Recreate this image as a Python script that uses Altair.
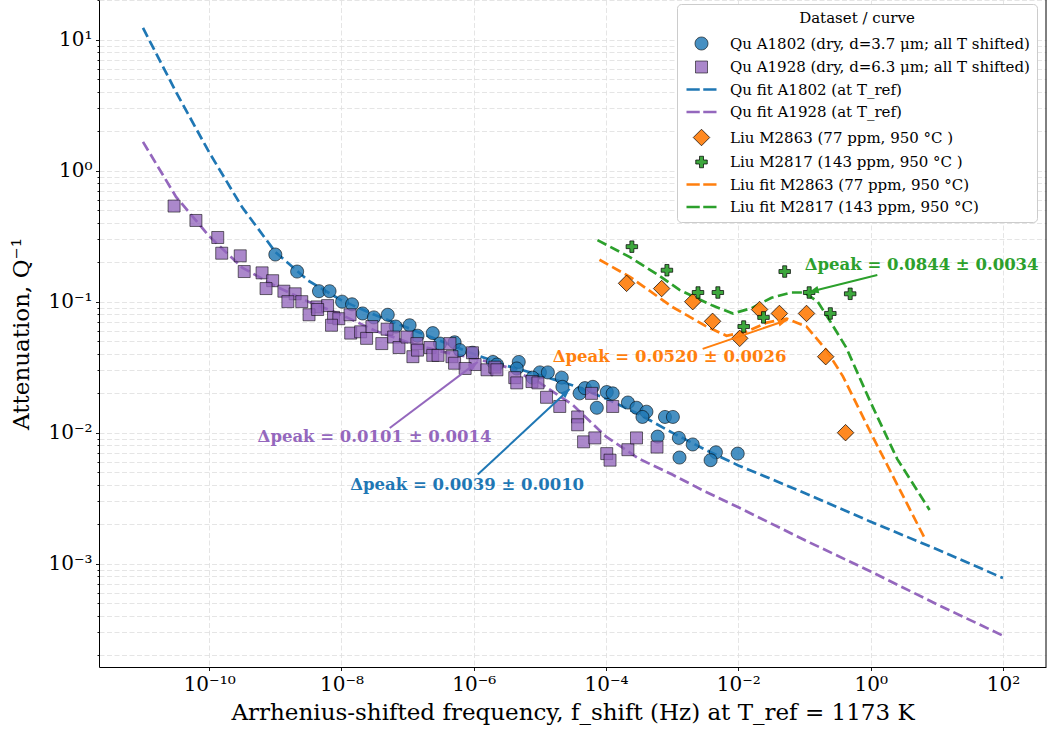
import math
import altair as alt
import pandas as pd

# ---------------- data (log10 values) ----------------
# Qu A1802 : log10 f_shift [Hz], log10 Q^-1
a1802_logf = [-9.00, -8.67, -8.34, -8.18, -7.99, -7.84, -7.68, -7.51, -7.30, -7.18,
              -6.97, -6.85, -6.62, -6.51, -6.29, -6.21, -6.02, -5.71, -5.65, -5.32,
              -5.35, -5.00, -4.88, -5.11, -4.67, -4.66, -4.40, -4.32, -4.20, -3.99,
              -3.90, -4.14, -3.67, -3.54, -3.39, -3.45, -3.11, -2.99, -3.22, -2.90,
              -2.69, -2.34, -2.42, -2.89, -2.01]
a1802_logq = [-0.64, -0.77, -0.92, -0.92, -1.00, -1.02, -1.09, -1.12, -1.10, -1.19,
              -1.18, -1.26, -1.24, -1.32, -1.31, -1.37, -1.39, -1.46, -1.48, -1.46,
              -1.51, -1.54, -1.54, -1.58, -1.58, -1.65, -1.70, -1.66, -1.65, -1.69,
              -1.70, -1.81, -1.77, -1.81, -1.84, -1.88, -1.88, -1.88, -2.03, -2.04,
              -2.09, -2.15, -2.21, -2.19, -2.16]

# Qu A1928
a1928_logf = [-10.53, -10.20, -9.87, -9.81, -9.53, -9.47, -9.20, -9.04, -9.14, -8.87,
              -8.70, -8.81, -8.60, -8.37, -8.49, -8.21, -8.36, -8.12, -8.04, -7.87,
              -8.15, -7.86, -7.71, -7.62, -7.54, -7.39, -7.31, -7.21, -7.13, -7.01,
              -6.86, -6.92, -6.85, -6.66, -6.62, -6.54, -6.36, -6.33, -6.29, -6.02,
              -5.98, -6.13, -5.80, -5.68, -5.65, -5.38, -5.35, -5.12, -5.03, -4.90,
              -4.70, -4.43, -4.43, -4.34, -4.17, -3.99, -3.94, -3.67, -3.54, -3.23,
              -4.22, -3.90]
a1928_logq = [-0.27, -0.38, -0.51, -0.63, -0.65, -0.77, -0.78, -0.84, -0.90, -0.92,
              -0.94, -1.00, -1.00, -1.04, -1.10, -1.03, -1.06, -1.12, -1.13, -1.10,
              -1.18, -1.24, -1.23, -1.28, -1.19, -1.32, -1.21, -1.27, -1.35, -1.27,
              -1.32, -1.42, -1.37, -1.35, -1.41, -1.41, -1.32, -1.42, -1.47, -1.39,
              -1.48, -1.51, -1.52, -1.50, -1.52, -1.58, -1.62, -1.61, -1.62, -1.73,
              -1.80, -1.88, -1.94, -2.07, -2.04, -2.16, -2.21, -2.13, -2.04, -2.11,
              -1.70, -1.80]

# Liu M2863 (diamonds)
m2863_logf = [-3.69, -3.16, -2.69, -2.39, -1.98, -1.68, -1.38, -0.97, -0.68, -0.38]
m2863_logq = [-0.86, -0.90, -1.00, -1.15, -1.28, -1.06, -1.09, -1.09, -1.42, -2.00]

# Liu M2817 (crosses)
m2817_logf = [-3.61, -3.08, -2.61, -2.31, -1.92, -1.62, -1.30, -0.93, -0.61, -0.31]
m2817_logq = [-0.58, -0.76, -0.93, -0.93, -1.19, -1.12, -0.77, -0.93, -1.09, -0.94]

# fitted curves
fit_a1802_logf = [-11.0, -10.5, -10.0, -9.5, -9.0, -8.5, -8.0, -7.5, -7.0, -6.5, -6.0, -5.5,
                  -5.0, -4.5, -4.0, -3.5, -3.0, -2.5, -2.0, -1.0, 0.0, 1.0, 2.0]
fit_a1802_logq = [1.09, 0.60, 0.14, -0.28, -0.62, -0.84, -0.99, -1.10, -1.20, -1.30, -1.40, -1.49,
                  -1.56, -1.64, -1.74, -1.86, -2.00, -2.13, -2.25, -2.46, -2.68, -2.89, -3.11]
fit_a1928_logf = [-11.0, -10.5, -10.0, -9.5, -9.0, -8.5, -8.0, -7.5, -7.0, -6.5, -6.0, -5.5,
                  -5.0, -4.5, -4.0, -3.5, -3.0, -2.5, -2.0, -1.0, 0.0, 1.0, 2.0]
fit_a1928_logq = [0.22, -0.20, -0.50, -0.74, -0.88, -1.00, -1.10, -1.22, -1.31, -1.38, -1.43, -1.50,
                  -1.62, -1.79, -2.03, -2.20, -2.32, -2.45, -2.57, -2.82, -3.06, -3.31, -3.55]
fit_m2863_logf = [-4.10, -3.64, -3.00, -2.48, -2.18, -1.88, -1.57, -1.27, -0.97, -0.67, -0.42, 0.03, 0.81]
fit_m2863_logq = [-0.68, -0.81, -1.04, -1.19, -1.26, -1.23, -1.16, -1.13, -1.19, -1.37, -1.57, -2.03, -2.80]
fit_m2817_logf = [-4.13, -3.64, -3.20, -2.89, -2.39, -2.08, -1.80, -1.50, -1.20, -1.00, -0.80, -0.60,
                  -0.37, 0.00, 0.40, 0.89]
fit_m2817_logq = [-0.53, -0.66, -0.80, -0.91, -1.03, -1.09, -1.05, -0.97, -0.93, -0.93, -1.00, -1.16,
                  -1.35, -1.77, -2.20, -2.59]

# annotations: text, text anchor, arrow tail, arrow head (log10 data coords)
ann_text = ["Δpeak = 0.0101 ± 0.0014", "Δpeak = 0.0039 ± 0.0010",
            "Δpeak = 0.0520 ± 0.0026", "Δpeak = 0.0844 ± 0.0034"]
ann_color = ["#9467bd", "#1f77b4", "#ff7f0e", "#2ca02c"]
ann_text_logf = [-7.50, -6.10, -3.04, 0.77]
ann_text_logq = [-2.033, -2.40, -1.42, -0.72]
ann_tail_logf = [-7.27, -5.94, -2.54, 0.10]
ann_tail_logq = [-1.964, -2.32, -1.36, -0.796]
ann_head_logf = [-5.94, -4.55, -1.26, -0.93]
ann_head_logq = [-1.460, -1.666, -1.14, -0.926]

# labels
L_A1802 = "Qu A1802 (dry, d=3.7 μm; all T shifted)"
L_A1928 = "Qu A1928 (dry, d=6.3 μm; all T shifted)"
L_FA1802 = "Qu fit A1802 (at T_ref)"
L_FA1928 = "Qu fit A1928 (at T_ref)"
L_M2863 = "Liu M2863 (77 ppm, 950 °C )"
L_M2817 = "Liu M2817 (143 ppm, 950 °C )"
L_FM2863 = "Liu fit M2863 (77 ppm, 950 °C)"
L_FM2817 = "Liu fit M2817 (143 ppm, 950 °C)"
legend_order = [L_A1802, L_A1928, L_FA1802, L_FA1928, L_M2863, L_M2817, L_FM2863, L_FM2817]

BLUE, PURPLE, ORANGE, GREEN = "#1f77b4", "#9467bd", "#ff7f0e", "#2ca02c"

# ---------------- layout ----------------
W, H = 947, 667
X_LO, X_HI = -11.665, 2.65
Y_LO, Y_HI = -3.789, 1.303
PPX = W / (X_HI - X_LO)
PPY = H / (Y_HI - Y_LO)
FONT = "DejaVu Serif"

# ---------------- tables ----------------
def pts(logf, logq, name):
    return pd.DataFrame({"f": [10 ** v for v in logf], "q": [10 ** v for v in logq], "series": name})

points = pd.concat([
    pts(a1802_logf, a1802_logq, L_A1802),
    pts(a1928_logf, a1928_logq, L_A1928),
    pts(m2863_logf, m2863_logq, L_M2863),
    pts(m2817_logf, m2817_logq, L_M2817),
], ignore_index=True)

fits = pd.concat([
    pts(fit_a1802_logf, fit_a1802_logq, L_FA1802),
    pts(fit_a1928_logf, fit_a1928_logq, L_FA1928),
    pts(fit_m2863_logf, fit_m2863_logq, L_FM2863),
    pts(fit_m2817_logf, fit_m2817_logq, L_FM2817),
], ignore_index=True)

ann_labels = pd.DataFrame({
    "f": [10 ** v for v in ann_text_logf], "q": [10 ** v for v in ann_text_logq],
    "label": ann_text, "color": ann_color})
arrows = pd.DataFrame({
    "f": [10 ** v for v in ann_tail_logf], "q": [10 ** v for v in ann_tail_logq],
    "f2": [10 ** v for v in ann_head_logf], "q2": [10 ** v for v in ann_head_logq],
    "color": ann_color})
heads = pd.DataFrame({
    "f": [10 ** v for v in ann_head_logf], "q": [10 ** v for v in ann_head_logq],
    "color": ann_color,
    "angle": [math.degrees(math.atan2((h - t) * PPX, (hq - tq) * PPY)) % 360
              for t, h, tq, hq in zip(ann_tail_logf, ann_head_logf, ann_tail_logq, ann_head_logq)]})

# ---------------- axes ----------------
x_major = [10.0 ** k for k in range(-10, 3, 2)]
y_major = [10.0 ** k for k in range(-3, 2)]
y_minor = [m * 10.0 ** k for k in range(-4, 2) for m in range(2, 10)
           if 10 ** Y_LO <= m * 10.0 ** k <= 10 ** Y_HI]
y_values = sorted(y_major + y_minor)

EXP = "round(log(datum.value)/LN10)"
IS_DEC = f"abs(log(datum.value)/LN10 - {EXP}) < 0.001"
sup = f"('' + {EXP})"
for a, b in [("-", "⁻"), ("0", "⁰"), ("1", "¹"), ("2", "²"), ("3", "³"), ("4", "⁴"),
             ("5", "⁵"), ("6", "⁶"), ("7", "⁷"), ("8", "⁸"), ("9", "⁹")]:
    sup = f"replace({sup}, '{a}', '{b}')"
LABEL_EXPR = f"{IS_DEC} ? '10' + {sup} : ''"

common_axis = dict(
    labelExpr=LABEL_EXPR, grid=True, gridColor="#dedede", gridDash=[5, 2.5], gridWidth=0.8,
    tickColor="black", tickWidth=0.9, domain=True, domainColor="black", domainWidth=1,
    labelFont=FONT, labelFontSize=20, labelColor="black", labelPadding=3.5,
    labelOverlap=False, labelFlush=False, titleFont=FONT, titleFontWeight="normal",
    titleColor="black", titleFontSize=23,
)

X = alt.X("f:Q", scale=alt.Scale(type="log", domain=[10 ** X_LO, 10 ** X_HI], nice=False),
          axis=alt.Axis(values=x_major, tickSize=3.5, titlePadding=7,
                        title="Arrhenius-shifted frequency, f_shift (Hz) at T_ref = 1173 K",
                        **common_axis))
Y = alt.Y("q:Q", scale=alt.Scale(type="log", domain=[10 ** Y_LO, 10 ** Y_HI], nice=False),
          axis=alt.Axis(values=y_values,
                        tickSize={"condition": {"test": IS_DEC, "value": 3.5}, "value": 2},
                        titlePadding=14, title="Attenuation, Q⁻¹", **common_axis))

# ---------------- symbols (custom paths, unit = 5 px at size 100) ----------------
P_CIRCLE = "M1.3,0A1.3,1.3,0,1,1,-1.3,0A1.3,1.3,0,1,1,1.3,0Z"
P_SQUARE = "M-1.2,-1.2H1.2V1.2H-1.2Z"
P_DIAMOND = "M0,-1.65L1.65,0L0,1.65L-1.65,0Z"
P_CROSS = "M-0.4,-1.15H0.4V-0.4H1.15V0.4H0.4V1.15H-0.4V0.4H-1.15V-0.4H-0.4Z"
P_DASH = "M-3,-0.27H-0.35V0.27H-3ZM0.35,-0.27H3V0.27H0.35Z"

shape_range = [P_CIRCLE, P_SQUARE, P_DASH, P_DASH, P_DIAMOND, P_CROSS, P_DASH, P_DASH]
fill_range = ["rgba(31,119,180,0.82)", "rgba(148,103,189,0.78)", BLUE, PURPLE,
              "rgba(255,127,14,0.92)", "rgba(44,160,44,0.92)", ORANGE, GREEN]
stroke_range = ["rgba(0,0,0,0.75)", "rgba(0,0,0,0.7)", "rgba(0,0,0,0)", "rgba(0,0,0,0)",
                "rgba(0,0,0,0.9)", "rgba(0,0,0,0.9)", "rgba(0,0,0,0)", "rgba(0,0,0,0)"]

legend = alt.Legend(
    title="Dataset / curve", orient="none", legendX=578, legendY=4,
    fillColor="white", strokeColor="#cccccc", cornerRadius=4, padding=7,
    titleFont=FONT, titleFontSize=15, titleFontWeight="normal", titleColor="black",
    titleAnchor="middle", titlePadding=10,
    labelFont=FONT, labelFontSize=15, labelColor="black", labelLimit=0,
    symbolSize=100, symbolStrokeWidth=0.8, rowPadding=6.5,
    symbolOffset=10, labelOffset=21,
)

# ---------------- layers ----------------
lines = alt.Chart(fits).mark_line(strokeWidth=2.7, strokeDash=[10, 4.5]).encode(
    x=X, y=Y,
    color=alt.Color("series:N", legend=None,
                    scale=alt.Scale(domain=[L_FA1802, L_FA1928, L_FM2863, L_FM2817],
                                    range=[BLUE, PURPLE, ORANGE, GREEN])),
    detail="series:N",
)

scatter = alt.Chart(points).mark_point(size=100, strokeWidth=0.8, opacity=1).encode(
    x=X, y=Y,
    fill=alt.Fill("series:N", scale=alt.Scale(domain=legend_order, range=fill_range), legend=legend),
    stroke=alt.Stroke("series:N", scale=alt.Scale(domain=legend_order, range=stroke_range), legend=legend),
    shape=alt.Shape("series:N", scale=alt.Scale(domain=legend_order, range=shape_range), legend=legend),
)

arrow_lines = alt.Chart(arrows).mark_rule(strokeWidth=2).encode(
    x=X, y=Y, x2="f2:Q", y2="q2:Q", color=alt.Color("color:N", scale=None))

arrow_heads = alt.Chart(heads).mark_point(
    shape="M0,0L-0.75,1.9L0.75,1.9Z", size=100, filled=True, opacity=1).encode(
    x=X, y=Y, color=alt.Color("color:N", scale=None), angle=alt.Angle("angle:Q", scale=None))

texts = alt.Chart(ann_labels).mark_text(
    font=FONT, fontSize=16.5, fontWeight="bold", align="center", baseline="middle").encode(
    x=X, y=Y, text="label:N", color=alt.Color("color:N", scale=None))

right_spine = alt.Chart(pd.DataFrame({"k": [0]})).mark_rule(color="black", strokeWidth=1).encode(
    x=alt.value(W), y=alt.value(0), y2=alt.value(H))

chart = alt.layer(lines, scatter, arrow_lines, arrow_heads, texts, right_spine).properties(
    width=W, height=H,
    padding={"left": 99, "top": 0, "right": 2, "bottom": 68},
    autosize=alt.AutoSizeParams(type="none"),
    background="white",
).configure_view(stroke=None)

chart.save("out.html", embed_options={"renderer": "svg", "actions": False})
